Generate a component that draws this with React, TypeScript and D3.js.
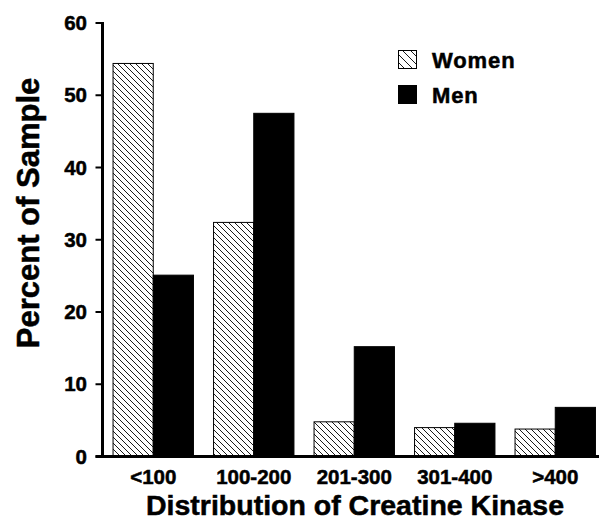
import React from "react";
import * as d3 from "d3";

const categories = ["<100", "100-200", "201-300", "301-400", ">400"];
const women = [54.4, 32.4, 4.8, 4.0, 3.8];
const men = [25.1, 47.5, 15.2, 4.6, 6.8];
const yTicks = [0, 10, 20, 30, 40, 50, 60];
const seriesNames = ["Women", "Men"];

const W = 599;
const H = 529;
const FONT = "'Liberation Sans', Arial, Helvetica, sans-serif";

export default function App() {
  const y = d3.scaleLinear().domain([0, 60]).range([456.5, 23]);
  const x = d3
    .scaleBand<string>()
    .domain(categories)
    .range([103, 605.5])
    .paddingInner(0.2)
    .paddingOuter(0.1);
  const sub = d3
    .scaleBand<string>()
    .domain(seriesNames)
    .range([0, x.bandwidth()])
    .padding(0);

  const textStroke = { stroke: "#000", strokeWidth: 0.5 };

  return (
    <svg
      width={W}
      height={H}
      style={{ position: "absolute", left: 0, top: 0, background: "#fff" }}
      fontFamily={FONT}
      fontWeight="bold"
    >
      <defs>
        <pattern id="hatch" patternUnits="userSpaceOnUse" width={6} height={6}>
          <rect width={6} height={6} fill="#fff" />
          <path
            d="M0,0 L6,6 M-1,5 L1,7 M5,-1 L7,1"
            stroke="#000"
            strokeWidth={0.9}
          />
        </pattern>
        <pattern id="hatchL" patternUnits="userSpaceOnUse" width={8} height={8}>
          <rect width={8} height={8} fill="#fff" />
          <path
            d="M0,0 L8,8 M-1,7 L1,9 M7,-1 L9,1"
            stroke="#000"
            strokeWidth={0.9}
          />
        </pattern>
      </defs>

      {categories.map((c, i) => {
        const x0 = x(c) as number;
        return (
          <g key={c}>
            <rect
              x={x0 + (sub("Women") as number)}
              y={y(women[i])}
              width={sub.bandwidth()}
              height={y(0) - y(women[i])}
              fill="url(#hatch)"
              stroke="#000"
              strokeWidth={1}
            />
            <rect
              x={x0 + (sub("Men") as number)}
              y={y(men[i])}
              width={sub.bandwidth()}
              height={y(0) - y(men[i])}
              fill="#000"
              stroke="#000"
              strokeWidth={1}
            />
            <text
              x={x0 + x.bandwidth() / 2}
              y={484}
              textAnchor="middle"
              fontSize={20.5}
              {...textStroke}
            >
              {c}
            </text>
          </g>
        );
      })}

      {/* y axis */}
      <line x1={102.5} x2={102.5} y1={y(60) - 1} y2={y(0)} stroke="#000" strokeWidth={3} />
      {yTicks.map((t) => (
        <g key={t}>
          <line x1={95.5} x2={102.5} y1={y(t)} y2={y(t)} stroke="#000" strokeWidth={2} />
          <text
            x={87}
            y={y(t)}
            dy="0.35em"
            textAnchor="end"
            fontSize={20.5}
            {...textStroke}
          >
            {t}
          </text>
        </g>
      ))}
      {/* x axis */}
      <line x1={95.5} x2={599} y1={y(0)} y2={y(0)} stroke="#000" strokeWidth={3} />

      {/* axis titles */}
      <text
        transform={`translate(39,213) rotate(-90)`}
        textAnchor="middle"
        fontSize={31}
        {...textStroke}
      >
        Percent of Sample
      </text>
      <text x={355} y={515} textAnchor="middle" fontSize={28.5} {...textStroke}>
        Distribution of Creatine Kinase
      </text>

      {/* legend */}
      <rect x={398.5} y={50.5} width={18} height={18} fill="url(#hatchL)" stroke="#000" strokeWidth={1} />
      <text x={432} y={68} fontSize={22} letterSpacing={0.9} {...textStroke}>
        Women
      </text>
      <rect x={398.5} y={85.5} width={18} height={18} fill="#000" stroke="#000" strokeWidth={1} />
      <text x={432} y={103} fontSize={22} letterSpacing={0.9} {...textStroke}>
        Men
      </text>
    </svg>
  );
}
